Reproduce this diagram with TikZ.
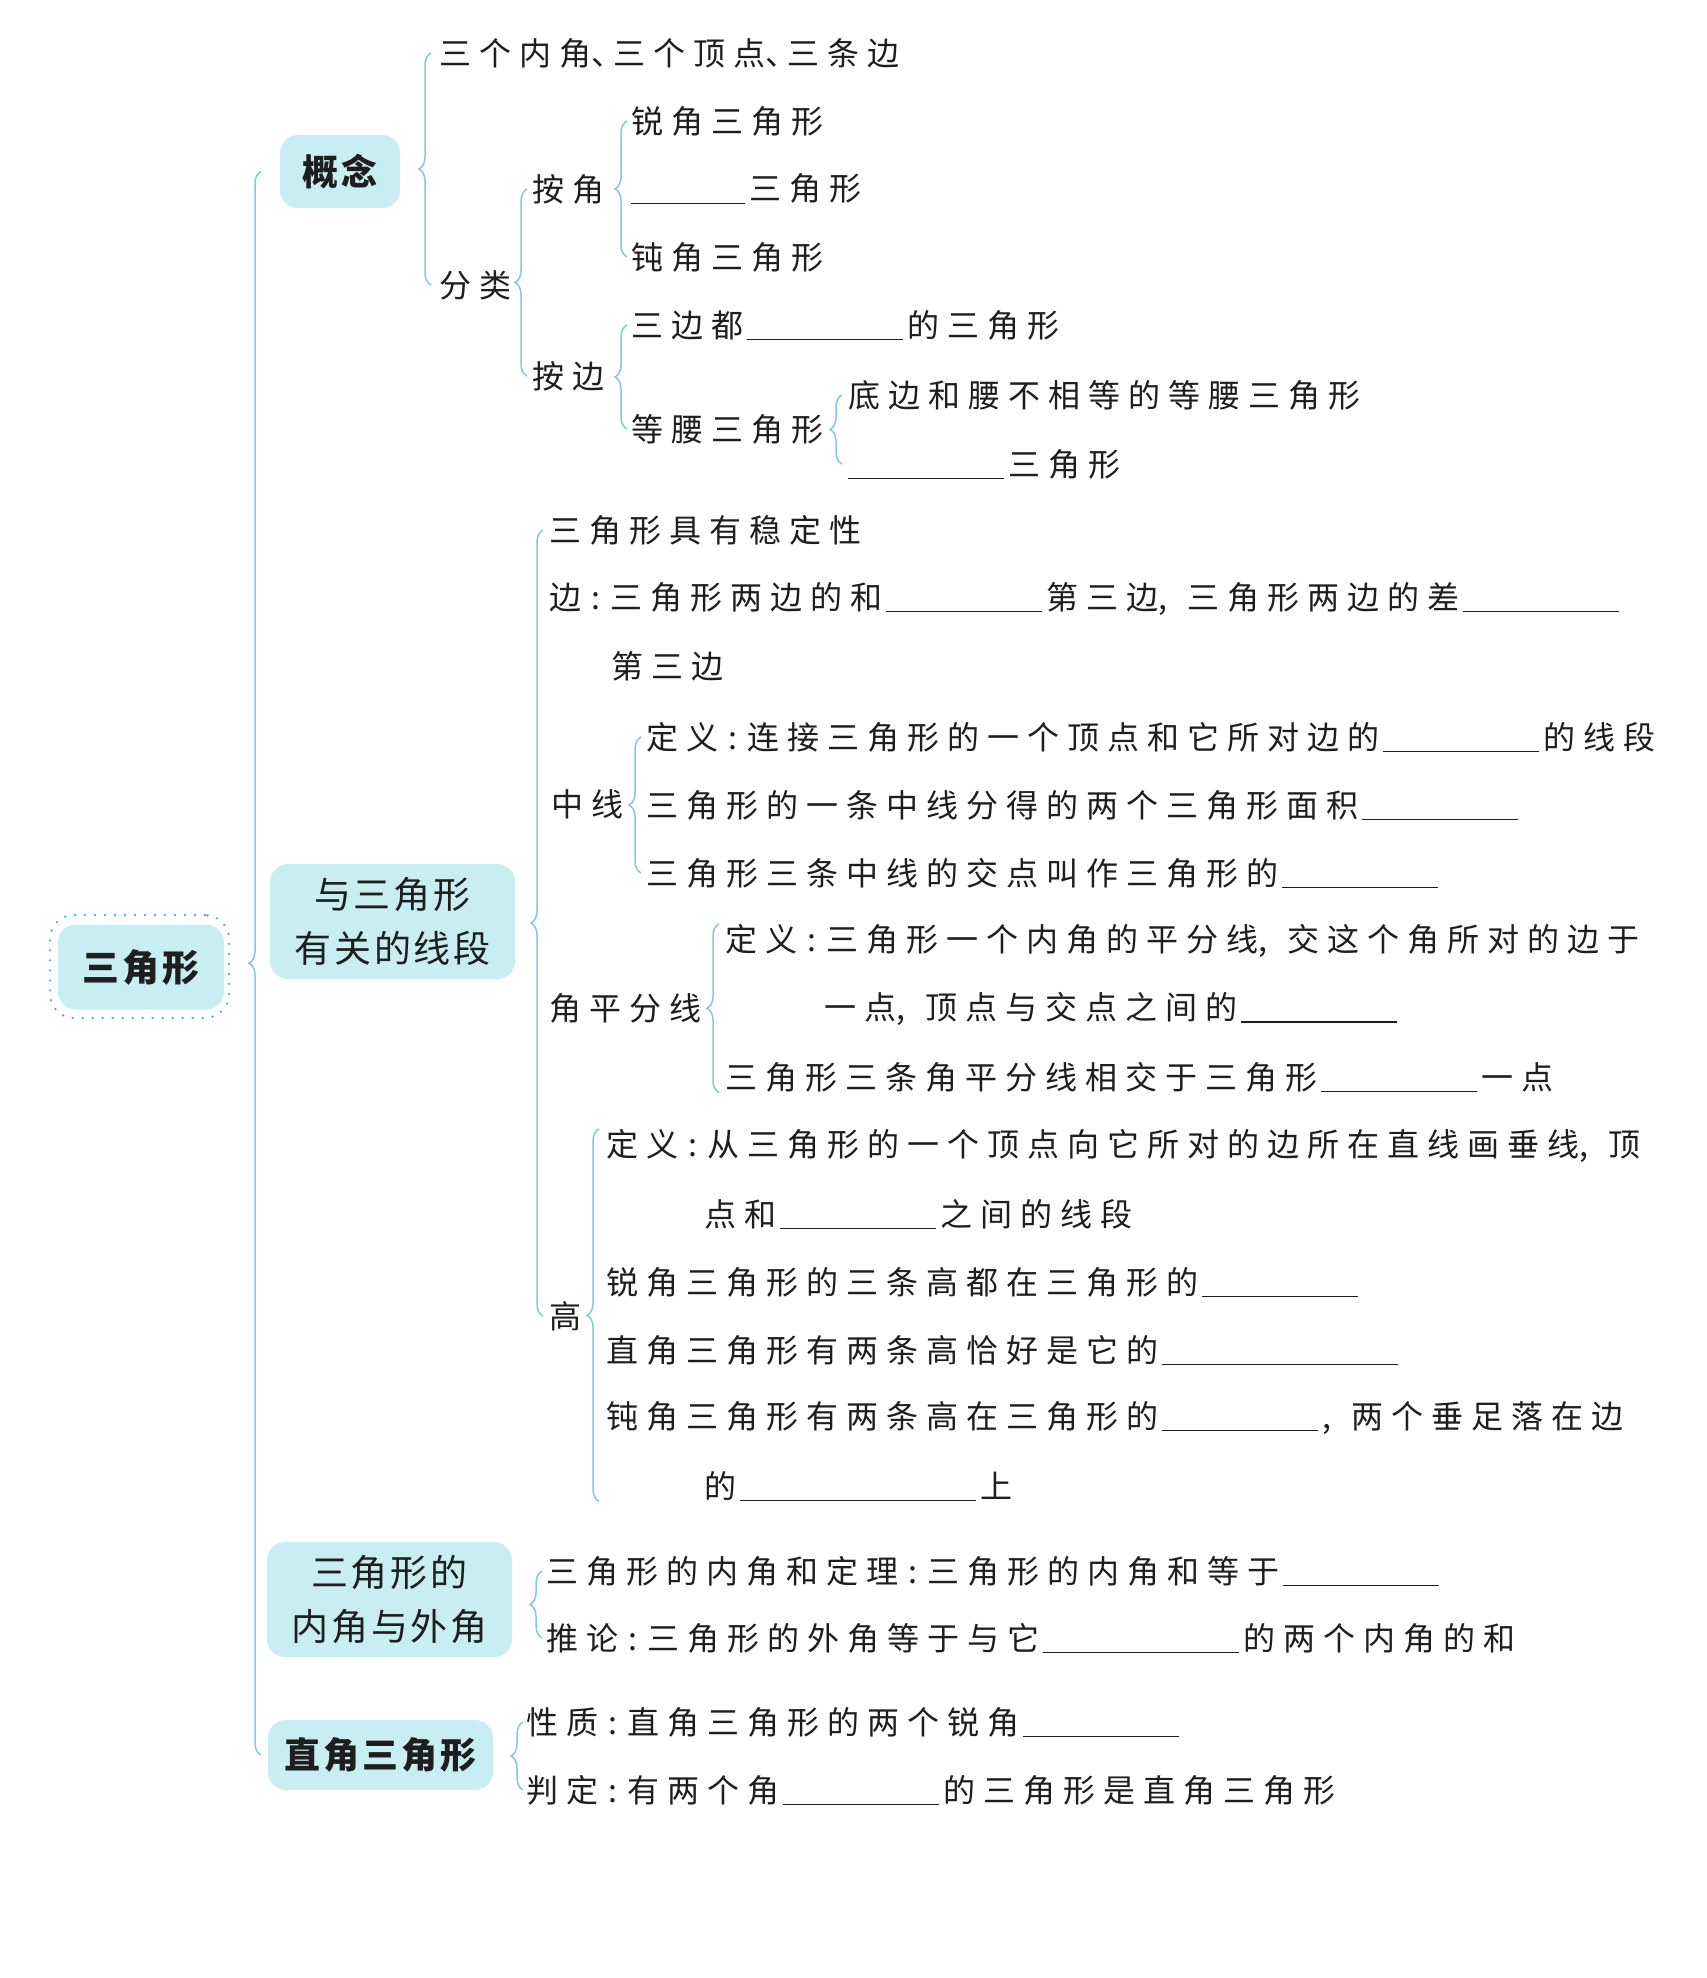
\documentclass[tikz,border=0pt]{standalone}
\usepackage{fontspec}
\usetikzlibrary{decorations.pathreplacing}
\newfontfamily\cjk[LetterSpace=25]{Noto Sans CJK SC}
\newfontfamily\cjkb[LetterSpace=8]{Noto Sans CJK SC}
\definecolor{boxfill}{RGB}{200,238,244}
\definecolor{bracecol}{RGB}{130,200,222}
\definecolor{dotcol}{RGB}{80,175,200}
\definecolor{ink}{RGB}{30,30,30}
\newcommand\blank[1]{\hspace{2pt}\rule[-1.5pt]{#1pt}{0.6pt}\hspace{2pt}}
\newcommand\hc{\makebox[14.5pt][c]{:}}
\newcommand\hm{\makebox[14.5pt][l]{,}}
\newcommand\hd{\makebox[11pt][l]{、}}
\begin{document}
\begin{tikzpicture}[x=0.5pt,y=-0.5pt,
  txt/.style={anchor=west, inner sep=0pt, text=ink, font=\cjk\fontsize{16}{20}\selectfont},
  box/.style={fill=boxfill, rounded corners=9pt, text=ink, align=center, inner sep=0pt,
    font=\cjkb\bfseries\fontsize{18}{27}\selectfont},
  boxlight/.style={box, font=\cjkb\fontsize{18.5}{27}\selectfont},
  br/.style={draw=bracecol, line width=0.75pt, decorate, decoration={brace, amplitude=6pt}}]
\fill[white] (0,0) rectangle (1707,1978);
\useasboundingbox (0,0) rectangle (1707,1978);

% root
\node[draw=dotcol, line width=1.3pt, line cap=round, dash pattern=on 0pt off 5pt,
  rounded corners=12pt, minimum width=89.5pt, minimum height=51.5pt, inner sep=0pt] (rootframe) at (139.5,966.5) {};
\node[box, minimum width=83pt, minimum height=42.5pt, font=\cjkb\bfseries\fontsize{18.5}{22}\selectfont] (root) at (141,967) {三角形};

% level 1 boxes
\node[box, minimum width=60pt, minimum height=36.5pt] (gn) at (340,171.5) {概念};
\node[boxlight, minimum width=122.5pt, minimum height=57.5pt] (xd) at (392.5,921.5) {与三角形\\有关的线段};
\node[boxlight, minimum width=122.5pt, minimum height=57.5pt] (nw) at (389.5,1599.5) {三角形的\\内角与外角};
\node[box, minimum width=112.5pt, minimum height=35pt] (zj) at (380.5,1755) {直角三角形};

% concept branch
\node[txt] (c1) at (439,53) {三个内角\hd 三个顶点\hd 三条边};
\node[txt] (fl) at (439,285) {分类};
\node[txt] (aj) at (532,189) {按角};
\node[txt] (ab) at (532,376) {按边};
\node[txt] (rui) at (631,121) {锐角三角形};
\node[txt] (zhi) at (631,189) {\rule[-1.5pt]{57pt}{0.6pt}\hspace{2pt}三角形};
\node[txt] (dun) at (631,257) {钝角三角形};
\node[txt] (db) at (631,325) {三边都\blank{78}的三角形};
\node[txt] (dy) at (631,429) {等腰三角形};
\node[txt] (y1) at (848,395) {底边和腰不相等的等腰三角形};
\node[txt] (y2) at (848,464) {\rule[-1.5pt]{78pt}{0.6pt}\hspace{2pt}三角形};

% segment branch
\node[txt] (wd) at (549,530) {三角形具有稳定性};
\node[txt] (bian) at (549,599) {边\hc 三角形两边的和\blank{78}第三边\hm 三角形两边的差\blank{78}};
\node[txt] (bian2) at (611,666) {第三边};
\node[txt] (zx) at (551,804) {中线};
\node[txt] (zx1) at (646,737) {定义\hc 连接三角形的一个顶点和它所对边的\blank{78}的线段};
\node[txt] (zx2) at (646,805) {三角形的一条中线分得的两个三角形面积\blank{78}};
\node[txt] (zx3) at (646,873) {三角形三条中线的交点叫作三角形的\blank{78}};
\node[txt] (jpf) at (549,1008) {角平分线};
\node[txt] (jp1) at (725,941) {定义\hc 三角形一个内角的平分线\hm 交这个角所对的边于};
\node[txt] (jp1b) at (824,1009) {一点\hm 顶点与交点之间的\blank{78}};
\node[txt] (jp2) at (725,1077) {三角形三条角平分线相交于三角形\blank{78}一点};
\node[txt] (gao) at (549,1316) {高};
\node[txt] (g1) at (606,1146) {定义\hc 从三角形的一个顶点向它所对的边所在直线画垂线\hm 顶};
\node[txt] (g1b) at (704,1214) {点和\blank{78}之间的线段};
\node[txt] (g2) at (606,1282) {锐角三角形的三条高都在三角形的\blank{78}};
\node[txt] (g3) at (606,1350) {直角三角形有两条高恰好是它的\blank{118}};
\node[txt] (g4) at (606,1418) {钝角三角形有两条高在三角形的\blank{78}\hm 两个垂足落在边};
\node[txt] (g4b) at (704,1486) {的\blank{118}上};

% angle branch
\node[txt] (a1) at (546,1571) {三角形的内角和定理\hc 三角形的内角和等于\blank{78}};
\node[txt] (a2) at (546,1638) {推论\hc 三角形的外角等于与它\blank{98}的两个内角的和};

% right triangle branch
\node[txt] (r1) at (526,1722) {性质\hc 直角三角形的两个锐角\blank{78}};
\node[txt] (r2) at (526,1790) {判定\hc 有两个角\blank{78}的三角形是直角三角形};

% brace x positions
\coordinate (b0) at (261,0);
\coordinate (bc) at (431,0);
\coordinate (bfl) at (527,0);
\coordinate (baj) at (627,0);
\coordinate (bab) at (627,0);
\coordinate (bdy) at (842,0);
\coordinate (bxd) at (543,0);
\coordinate (bzx) at (641,0);
\coordinate (bjp) at (719,0);
\coordinate (bgao) at (599,0);
\coordinate (bnw) at (542,0);
\coordinate (bzj) at (523,0);

% braces (drawn bottom to top so the tip points left)
\draw[br] (b0 |- zj.center) -- (b0 |- gn.center);
\draw[br] (bc |- fl.center) -- (bc |- c1.center);
\draw[br] (bfl |- ab.center) -- (bfl |- aj.center);
\draw[br] (baj |- dun.center) -- (baj |- rui.center);
\draw[br] (bab |- dy.center) -- (bab |- db.center);
\draw[br] (bdy |- y2.center) -- (bdy |- y1.center);
\draw[br] (bxd |- gao.center) -- (bxd |- wd.center);
\draw[br] (bzx |- zx3.center) -- (bzx |- zx1.center);
\draw[br] (bjp |- jp2.south) -- (bjp |- jp1.north);
\draw[br] (bgao |- g4b.south) -- (bgao |- g1.north);
\draw[br] (bnw |- a2.center) -- (bnw |- a1.center);
\draw[br] (bzj |- r2.center) -- (bzj |- r1.center);
\end{tikzpicture}
\end{document}
